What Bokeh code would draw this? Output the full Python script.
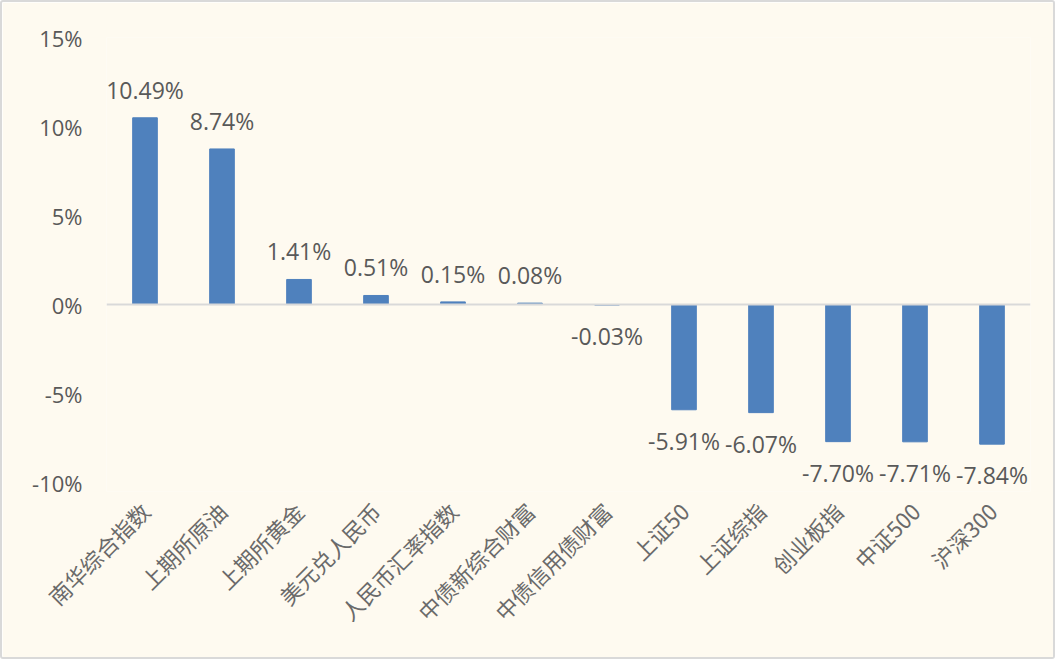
import math
from bokeh.plotting import figure
from bokeh.models import ColumnDataSource, Range1d, FactorRange, Span, PrintfTickFormatter, FixedTicker, LabelSet
from bokeh.core.properties import value
from bokeh.embed import file_html
from bokeh.resources import INLINE

categories = ["南华综合指数", "上期所原油", "上期所黄金", "美元兑人民币", "人民币汇率指数",
              "中债新综合财富", "中债信用债财富", "上证50", "上证综指", "创业板指", "中证500", "沪深300"]
returns_pct = [10.49, 8.74, 1.41, 0.51, 0.15, 0.08, -0.03, -5.91, -6.07, -7.70, -7.71, -7.84]
y_ticks = [-10, -5, 0, 5, 10, 15]

labels = [f"{v:.2f}%" for v in returns_pct]
offsets = [28 if v >= 0 else -31 for v in returns_pct]

src = ColumnDataSource(dict(cat=categories, val=returns_pct, lab=labels, off=offsets))

BG = "#fefaf0"
p = figure(width=1055, height=659, x_range=FactorRange(factors=categories),
           y_range=Range1d(-10.5, 15), output_backend="svg", toolbar_location=None,
           min_border_left=104, min_border_right=27, min_border_top=35, min_border_bottom=170,
           background_fill_color=BG, border_fill_color=BG, outline_line_color=None)
p.styles = {"border": "2px solid #d9d9d9", "border-radius": "3px"}

p.vbar(x="cat", top="val", bottom=0, width=0.32, source=src,
       fill_color="#4f81bd", line_color="#4f81bd")

p.add_layout(Span(location=0, dimension="width", line_color="#d9d9d9", line_width=2))

lbl = LabelSet(x="cat", y="val", text="lab", y_offset="off", source=src,
               text_align="center", text_baseline="middle",
               text_font=value("Open Sans"), text_font_size=value("23px"),
               text_color=value("#595959"))
p.add_layout(lbl)

p.xgrid.grid_line_color = None
p.ygrid.grid_line_color = None

p.yaxis.ticker = FixedTicker(ticks=y_ticks)
p.yaxis.formatter = PrintfTickFormatter(format="%d%%")
p.yaxis.axis_line_color = None
p.yaxis.major_tick_line_color = None
p.yaxis.minor_tick_line_color = None
p.yaxis.major_tick_out = 0
p.yaxis.major_label_standoff = 24
p.yaxis.major_label_text_font = "Open Sans"
p.yaxis.major_label_text_font_size = "22px"
p.yaxis.major_label_text_color = "#595959"

p.xaxis.axis_line_color = None
p.xaxis.major_tick_line_color = None
p.xaxis.major_tick_out = 0
p.xaxis.major_label_orientation = math.pi / 4
p.xaxis.major_label_standoff = 15
p.xaxis.major_label_text_font = "Noto Sans CJK SC"
p.xaxis.major_label_text_font_size = "22px"
p.xaxis.major_label_text_color = "#6a6a6a"

open("out.html", "w").write(file_html(p, INLINE))
